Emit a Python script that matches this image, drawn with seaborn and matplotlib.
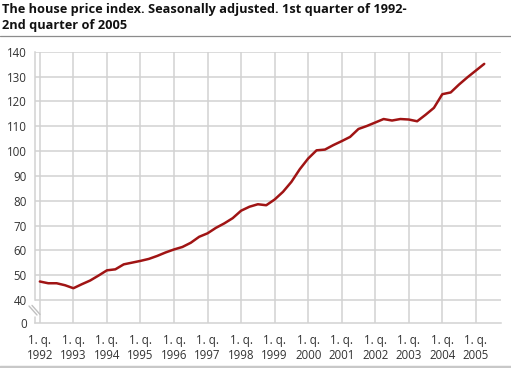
import numpy as np
import pandas as pd
import seaborn as sns
import matplotlib.pyplot as plt
from matplotlib.lines import Line2D

# House price index, seasonally adjusted, 1992Q1 - 2005Q2
years = [1992, 1993, 1994, 1995, 1996, 1997, 1998, 1999, 2000, 2001, 2002, 2003, 2004, 2005]
index_values = [
    47.5, 46.8, 46.8, 46.0,      # 1992
    44.8, 46.4, 47.9, 49.9,      # 1993
    52.0, 52.4, 54.4, 55.1,      # 1994
    55.8, 56.6, 57.8, 59.2,      # 1995
    60.4, 61.4, 63.1, 65.5,      # 1996
    66.9, 69.1, 70.9, 73.0,      # 1997
    76.0, 77.6, 78.6, 78.2,      # 1998
    80.5, 83.6, 87.6, 92.7,      # 1999
    97.0, 100.3, 100.6, 102.4,   # 2000
    104.0, 105.7, 108.9, 110.1,  # 2001
    111.5, 112.9, 112.3, 112.9,  # 2002
    112.7, 112.0, 114.6, 117.4,  # 2003
    122.9, 123.6, 126.8, 129.7,  # 2004
    132.4, 135.1,                # 2005
]
y_ticks = [40, 50, 60, 70, 80, 90, 100, 110, 120, 130, 140]
title = "The house price index. Seasonally adjusted. 1st quarter of 1992-\n2nd quarter of 2005"

t = [1992 + i / 4 for i in range(len(index_values))]
df = pd.DataFrame({"time": t, "index": index_values})

sns.set_style("white")
plt.rcParams['font.family'] = ['Open Sans', 'DejaVu Sans']

W, H = 511, 368
fig = plt.figure(figsize=(W / 100, H / 100), dpi=100)
ax = fig.add_axes([35 / W, 45 / H, (501 - 35) / W, (323 - 51.7) / H])

grid_c = "#d2d2d2"
text_c = "#333333"
y_bottom = 30.8
x_left, x_right = 1991.855, 2005.40

# grid lines
for v in y_ticks:
    ax.axhline(v, color=grid_c, lw=1.1, zorder=1)
for yr in years:
    ax.axvline(yr, color=grid_c, lw=1.1, zorder=1)

sns.lineplot(data=df, x="time", y="index", ax=ax, color="#a01414", lw=1.8, zorder=3)

ax.set_xlim(x_left, x_right)
ax.set_ylim(y_bottom, 140)

ax.set_yticks([y_bottom] + y_ticks)
ax.set_yticklabels(["0"] + [str(v) for v in y_ticks])
ax.set_xticks(years)
ax.set_xticklabels(["1. q.\n" + str(yr) for yr in years])
ax.set_xticks(t + [2005.5, 2005.75], minor=True)
ax.tick_params(axis="y", length=0, pad=6, labelsize=8.3, colors=text_c)
ax.tick_params(axis="x", which="major", length=0, pad=8, labelsize=8.3, colors=text_c)
ax.tick_params(axis="x", which="minor", direction="in", length=3.8, width=1, color=grid_c)
ax.set_xlabel("")
ax.set_ylabel("")

for s in ["top", "right"]:
    ax.spines[s].set_visible(False)
ax.spines["bottom"].set_color(grid_c)
ax.spines["bottom"].set_linewidth(1.1)
ax.spines["left"].set_color(grid_c)
ax.spines["left"].set_linewidth(1.1)
ax.spines["left"].set_bounds(40, 140)
# lower stub of the broken y axis
ax.plot([x_left, x_left], [y_bottom, 33.2], color=grid_c, lw=1.1, clip_on=False, zorder=2)

# axis break marks
for dx in (0, 3):
    fig.add_artist(Line2D([(29 + dx) / W, (37 + dx) / W], [1 - (306 - dx * 0.2) / H, 1 - (315 - dx * 0.2) / H],
                          color="#c0c0c0", lw=1.0))

fig.text(2 / W, 1 - 3 / H, title, ha="left", va="top", fontsize=9.2, fontweight="bold",
         color="#111111", linespacing=1.25)
fig.add_artist(Line2D([0, 1], [1 - 36 / H, 1 - 36 / H], color="#8c8c8c", lw=0.9))
fig.add_artist(Line2D([0, 1], [1.5 / H, 1.5 / H], color="#c8c8c8", lw=2.5))

fig.savefig("out.png", dpi=100)
